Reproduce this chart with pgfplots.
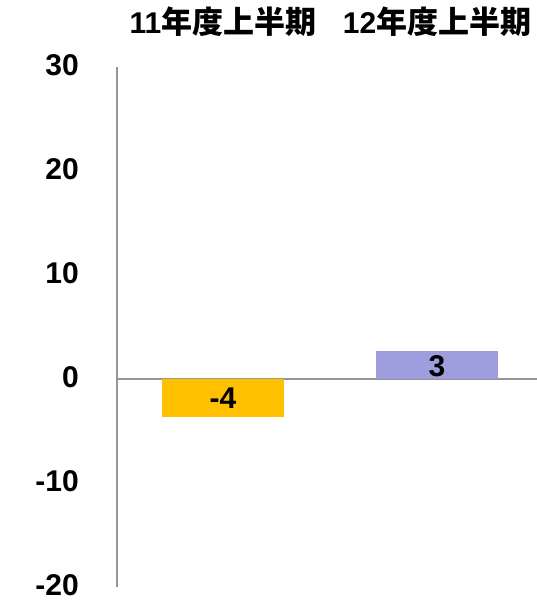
\documentclass[border=0pt]{standalone}
\usepackage{pgfplots}
\pgfplotsset{compat=1.18}
\usepackage{fontspec}
\setmainfont{Liberation Sans}
\newfontfamily\cjk{Noto Sans CJK JP}
\definecolor{barorange}{HTML}{FFC000}
\definecolor{barpurple}{HTML}{9E9EDE}
\definecolor{axgray}{HTML}{969696}
\begin{document}
\begin{tikzpicture}
\path[use as bounding box] (0,0) rectangle (537bp,600bp);
\begin{axis}[
  at={(117bp,13bp)}, anchor=south west,
  scale only axis, width=420bp, height=520bp,
  ymin=-20, ymax=30, ytick={-20,-10,0,10,20,30},
  xmin=-0.495, xmax=1.467,
  xtick=\empty,
  yticklabel style={anchor=east, inner sep=0pt, xshift=-38bp, yshift=1.5bp},
  /pgf/number format/assume math mode=true,
  ticklabel style={font=\fontsize{30bp}{32bp}\selectfont\bfseries},
  major tick length=0pt,
  axis line style={draw=none},
  clip=false,
  ybar, bar width=122bp, bar shift=0pt,
]
\draw[axgray, line width=1.2bp] (axis cs:-0.495,-20) -- (axis cs:-0.495,30);
\draw[axgray, line width=1.2bp] (axis cs:-0.495,0) -- (axis cs:1.467,0);
\addplot[fill=barorange, draw=none] coordinates {(0,-3.7)};
\addplot[fill=barpurple, draw=none] coordinates {(1,2.7)};
\node[font=\fontsize{30bp}{32bp}\selectfont\bfseries] at (axis cs:0,-1.8) {-4};
\node[font=\fontsize{30bp}{32bp}\selectfont\bfseries] at (axis cs:1,1.2) {3};
\node[font=\fontsize{30bp}{32bp}\selectfont\bfseries, anchor=base, inner sep=0pt] at ([yshift=33bp]axis cs:0,30) {11{\cjk\bfseries\fontsize{31bp}{32bp}\selectfont 年度上半期}};
\node[font=\fontsize{30bp}{32bp}\selectfont\bfseries, anchor=base, inner sep=0pt] at ([yshift=33bp]axis cs:1,30) {12{\cjk\bfseries\fontsize{31bp}{32bp}\selectfont 年度上半期}};
\end{axis}
\end{tikzpicture}
\end{document}
